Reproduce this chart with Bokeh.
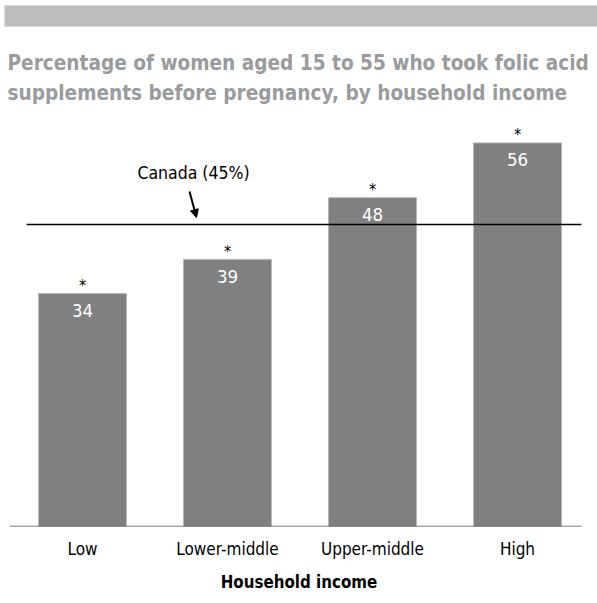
from bokeh.plotting import figure
from bokeh.models import Range1d, Label, Arrow, NormalHead, ColumnDataSource, FixedTicker
from bokeh.core.properties import value
from bokeh.embed import file_html
from bokeh.resources import INLINE

categories = ["Low", "Lower-middle", "Upper-middle", "High"]
percent = [34, 39, 48, 56]
significance = ["*", "*", "*", "*"]
canada_value = 44.1
canada_label = "Canada (45%)"
title_lines = ["Percentage of women aged 15 to 55 who took folic acid",
               "supplements before pregnancy, by household income"]
x_title = "Household income"

FONT = "DejaVu Sans Condensed"
W, H = 597, 603
PX_X = 145.0
PX_Y = 6.85
FRAME_H = 526
LOW_PX = 82.0
x0 = -LOW_PX / PX_X
x1 = x0 + W / PX_X
y1 = FRAME_H / PX_Y


def dx(px):
    return (px - LOW_PX) / PX_X


def dy(py):
    return (FRAME_H - py) / PX_Y


p = figure(width=W, height=H, output_backend="svg", toolbar_location=None,
           x_range=Range1d(x0, x1), y_range=Range1d(0, y1),
           min_border_left=0, min_border_right=0, min_border_top=0,
           min_border_bottom=H - FRAME_H)
p.outline_line_color = None
p.grid.visible = False
p.yaxis.visible = False
p.background_fill_color = "white"
p.border_fill_color = "white"

xs = list(range(len(categories)))
src = ColumnDataSource(dict(x=xs, top=percent, lab=[str(v) for v in percent], star=significance))

# header bar
p.quad(left=[dx(4)], right=[x1 + 1], bottom=[dy(26)], top=[dy(5)],
       fill_color="#bbbcbe", line_color=None)

for i, t in enumerate(title_lines):
    p.add_layout(Label(x=dx(7), y=dy(62 + 30 * i), text=t,
                       text_font=FONT, text_font_style="bold", text_font_size="20.6px",
                       text_color="#9a9b9d", text_baseline="middle", text_align="left"))

p.vbar(x="x", top="top", width=0.607, bottom=0, source=src,
       fill_color="#808080", line_color="#b8b8b8", line_width=1)

p.text(x="x", y="top", text="lab", source=src, text_color="white",
       text_font=value(FONT), text_font_size="18.5px", text_align="center",
       text_baseline="middle", y_offset=17)
p.text(x="x", y="top", text="star", source=src, text_color="black",
       text_font=value(FONT), text_font_size="16px", text_align="center",
       text_baseline="middle", y_offset=-8)

# Canada line
p.line(x=[dx(26), dx(581)], y=[canada_value, canada_value],
       line_color="black", line_width=1.5)
# baseline
p.line(x=[dx(9.5), dx(581)], y=[0, 0], line_color="#555555", line_width=1.5)

p.add_layout(Label(x=dx(193), y=dy(172), text=canada_label,
                   text_font=FONT, text_font_size="17.5px", text_color="black",
                   text_align="center", text_baseline="middle"))
p.add_layout(Arrow(x_start=dx(189), y_start=dy(191), x_end=dx(196), y_end=canada_value + 1.0,
                   line_color="black", line_width=2,
                   end=NormalHead(size=8, fill_color="black", line_color="black")))

p.xaxis.ticker = FixedTicker(ticks=xs)
p.xaxis.major_label_overrides = {i: c for i, c in enumerate(categories)}
p.xaxis.axis_line_color = None
p.xaxis.major_tick_line_color = None
p.xaxis.minor_tick_line_color = None
p.xaxis.major_tick_out = 0
p.xaxis.major_tick_in = 0
p.xaxis.minor_tick_out = 0
p.xaxis.minor_tick_in = 0
p.xaxis.major_label_text_font = FONT
p.xaxis.major_label_text_font_size = "17px"
p.xaxis.major_label_text_color = "black"
p.xaxis.major_label_standoff = 12
p.xaxis.axis_label = x_title
p.xaxis.axis_label_text_font = FONT
p.xaxis.axis_label_text_font_style = "bold"
p.xaxis.axis_label_text_font_size = "16.8px"
p.xaxis.axis_label_text_color = "black"
p.xaxis.axis_label_standoff = 10

open("out.html", "w").write(file_html(p, INLINE))
